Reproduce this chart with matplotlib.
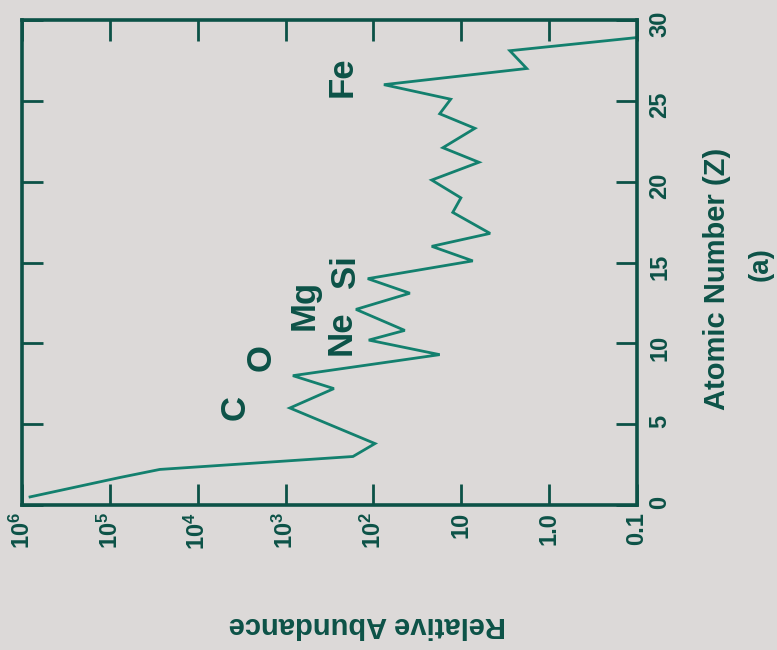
import matplotlib
matplotlib.use("Agg")
import matplotlib.pyplot as plt
from matplotlib.ticker import FixedLocator, FixedFormatter

plt.rcParams['font.family'] = ['Liberation Sans', 'DejaVu Sans']
plt.rcParams['font.weight'] = 'bold'
plt.rcParams['mathtext.fontset'] = 'custom'
plt.rcParams['mathtext.bf'] = 'Liberation Sans:bold'
plt.rcParams['mathtext.rm'] = 'Liberation Sans:bold'

# Relative abundance versus atomic number
atomic_number = [0.5, 1.7, 2.2, 3.0, 3.8, 6.0, 7.2, 8.0, 9.3, 10.2, 10.8, 12.1,
                 13.1, 14.0, 15.1, 16.0, 16.8, 18.1, 19.0, 20.1, 21.2, 22.1,
                 23.3, 24.2, 25.1, 26.0, 27.0, 28.1, 28.9]
abundance = [8.1e5, 7.7e4, 2.7e4, 171, 96, 893, 282, 826, 17.6, 113, 44, 158,
             38.5, 116, 7.4, 21.7, 4.7, 12.5, 10.1, 21.7, 6.3, 16.2,
             7.0, 17.6, 13.2, 76, 1.8, 2.8, 0.106]

abund_ticks = [1e6, 1e5, 1e4, 1e3, 1e2, 10, 1.0, 0.1]
abund_tick_labels = [r'$\mathbf{10^{6}}$', r'$\mathbf{10^{5}}$', r'$\mathbf{10^{4}}$',
                     r'$\mathbf{10^{3}}$', r'$\mathbf{10^{2}}$', '10', '1.0', '0.1']
z_ticks = [0, 5, 10, 15, 20, 25, 30]
z_tick_labels = ['0', '5', '10', '15', '20', '25', '30']

element_labels = ['C', 'O', 'Ne', 'Mg', 'Si', 'Fe']
element_label_z = [6.06, 9.1, 10.64, 12.37, 14.41, 26.47]
element_label_abund = [3800, 1900, 235, 620, 206, 230]

bg = '#dcd9d8'
ink = '#0c5247'
line_col = '#13806e'

W, H = 777, 650
fig = plt.figure(figsize=(W / 100, H / 100), dpi=100, facecolor=bg)
ax = fig.add_axes([22 / W, 1 - 505 / H, (637 - 22) / W, (505 - 20) / H])
ax.set_facecolor(bg)

ax.plot(abundance, atomic_number, color=line_col, lw=2.0, solid_joinstyle='miter')

ax.set_xscale('log')
ax.set_xlim(1e6, 0.1)
ax.set_ylim(0, 30)

ax.xaxis.set_major_locator(FixedLocator(abund_ticks))
ax.xaxis.set_major_formatter(FixedFormatter(abund_tick_labels))
ax.xaxis.set_minor_locator(FixedLocator([]))
ax.yaxis.set_major_locator(FixedLocator(z_ticks))
ax.yaxis.set_major_formatter(FixedFormatter(z_tick_labels))

ax.yaxis.tick_right()
ax.tick_params(axis='both', which='major', direction='in', length=15, width=2,
               color=ink, labelcolor=ink, labelsize=17,
               top=True, bottom=True, left=True, right=True)
ax.tick_params(axis='x', labelrotation=90, pad=5)
ax.tick_params(axis='y', labelrotation=90, pad=8, labelleft=False, labelright=True)
for lab in ax.get_xticklabels() + ax.get_yticklabels():
    lab.set_fontweight('bold')

for sp in ax.spines.values():
    sp.set_color(ink)
    sp.set_linewidth(2.6)

for name, z, a in zip(element_labels, element_label_z, element_label_abund):
    ax.text(a, z, name, rotation=90, ha='center', va='center',
            fontsize=25, fontweight='bold', color=ink)

fig.text(717 / W, 1 - 279 / H, 'Atomic Number (Z)', rotation=90,
         ha='center', va='center', fontsize=21, fontweight='bold', color=ink)
fig.text(761 / W, 1 - 264 / H, '(a)', rotation=90,
         ha='center', va='center', fontsize=20, fontweight='bold', color=ink)
fig.text(367 / W, 1 - 625 / H, 'Relative Abundance', rotation=180,
         ha='center', va='center', fontsize=21, fontweight='bold', color=ink)

fig.savefig('out.png', dpi=100, facecolor=bg)
